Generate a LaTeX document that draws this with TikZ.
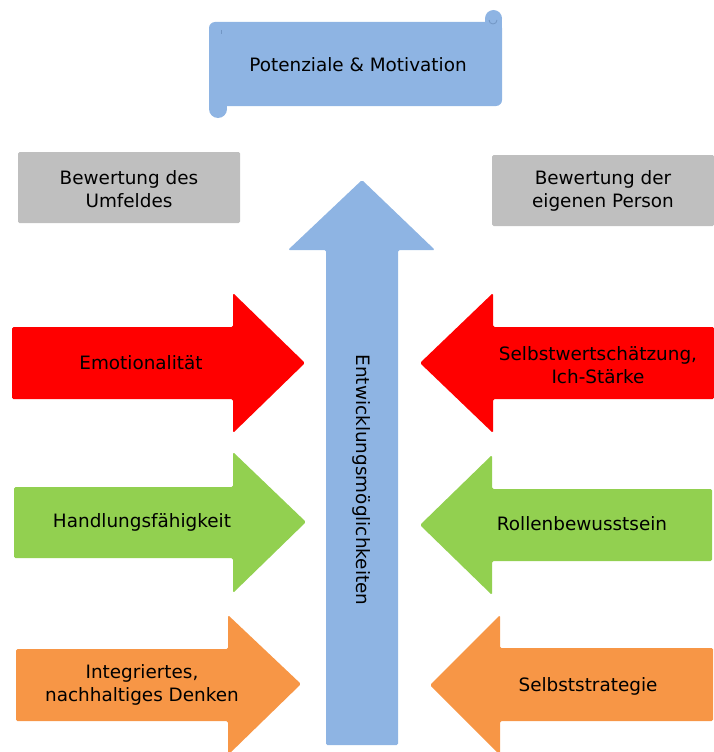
\documentclass[tikz,border=0pt]{standalone}
\usepackage{fontspec}
\setmainfont{DejaVu Sans}
\usetikzlibrary{positioning}

\definecolor{scrollblue}{HTML}{8EB4E3}
\definecolor{curlblue}{HTML}{7296C4}
\definecolor{boxgray}{HTML}{BFBFBF}
\definecolor{arrowred}{HTML}{FF0000}
\definecolor{arrowgreen}{HTML}{92D050}
\definecolor{arroworange}{HTML}{F79646}

\begin{document}
\begin{tikzpicture}[
  x=1pt, y=-1pt,
  font=\fontsize{18.4}{22.5}\selectfont,
  txt/.style={align=center, inner sep=0pt},
  pfeilform/.style={rounded corners=1.5pt},
  graybox/.style={fill=boxgray, rounded corners=1.5pt}
]
\useasboundingbox (0,0) rectangle (714,752);
\clip (0,0) rectangle (714,752);

% Schriftrolle oben
\fill[scrollblue, rounded corners=6pt] (209,22) rectangle (502,106);
\fill[scrollblue] (485,18) rectangle (502,40);
\fill[scrollblue] (493.5,18.5) circle (8.5);
\fill[scrollblue] (209,90) rectangle (227,110);
\fill[scrollblue] (218,109) circle (9);
\draw[curlblue, line width=0.8pt] (489,20) arc (180:0:4);
\draw[curlblue, line width=0.6pt] (221,30) -- (221,34);
\node[txt] (pot) at (358,65) {Potenziale \& Motivation};

% graue Kaesten
\fill[graybox] (18,152) rectangle (240,223);
\fill[graybox] (492,155) rectangle (714,226);
\node[txt] (umfeld) at (129,189) {Bewertung des\\Umfeldes};
\node[txt] (person) at (603,191) {Bewertung der\\eigenen Person};

% Pfeil nach oben
\fill[scrollblue, pfeilform] (326,745) -- (326,250) -- (288,250) -- (362,180)
  -- (435,250) -- (398,250) -- (398,745) -- cycle;
\node[txt, rotate=-90] (entw) at (362,480) {Entwicklungsmöglichkeiten};

% linke Pfeile
\fill[arrowred, pfeilform] (12,327) -- (233,327) -- (233,293) -- (305,363)
  -- (233,433) -- (233,399) -- (12,399) -- cycle;
\node[txt] (emo) at (141,363) {Emotionalität};

\fill[arrowgreen, pfeilform] (14,487) -- (233,487) -- (233,452) -- (306,522)
  -- (233,593) -- (233,558) -- (14,558) -- cycle;
\node[txt] (hand) at (142,522) {Handlungsfähigkeit};

\fill[arroworange, pfeilform] (16,649) -- (228,649) -- (228,615) -- (301,684)
  -- (228,755) -- (228,721) -- (16,721) -- cycle;
\node[txt] (denk) at (142,685) {Integriertes,\\nachhaltiges Denken};

% rechte Pfeile
\fill[arrowred, pfeilform] (714,327) -- (493,327) -- (493,293) -- (420,363)
  -- (493,433) -- (493,399) -- (714,399) -- cycle;
\node[txt] (selbst) at (598,365) {Selbstwertschätzung,\\Ich-Stärke};

\fill[arrowgreen, pfeilform] (712,489) -- (492,489) -- (492,455) -- (420,525)
  -- (492,595) -- (492,561) -- (712,561) -- cycle;
\node[txt] (rolle) at (582,524) {Rollenbewusstsein};

\fill[arroworange, pfeilform] (713,648) -- (500,648) -- (500,615) -- (430,685)
  -- (500,755) -- (500,721) -- (713,721) -- cycle;
\node[txt] (strat) at (588,686) {Selbststrategie};

\end{tikzpicture}
\end{document}
